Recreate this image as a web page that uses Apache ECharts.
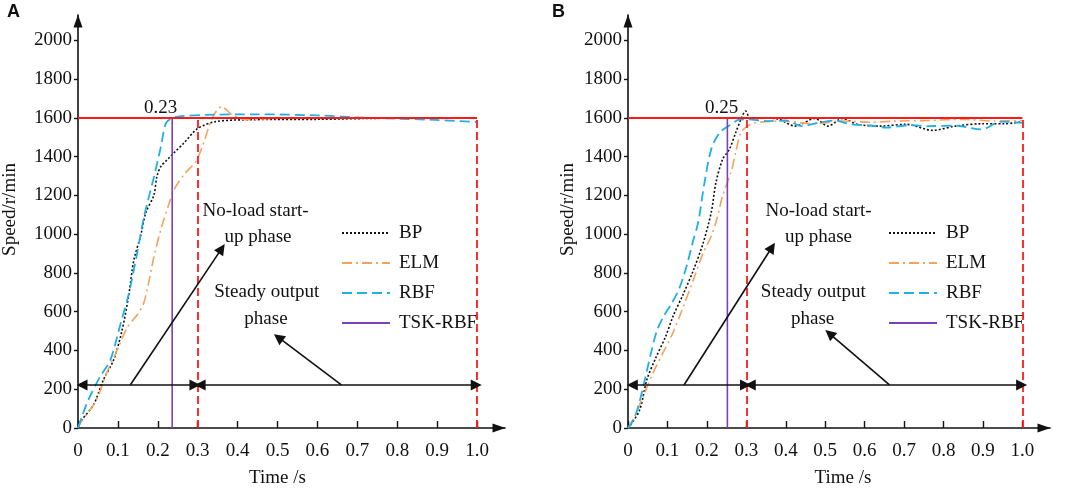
<!DOCTYPE html>
<html>
<head>
<meta charset="utf-8">
<script src="https://cdn.jsdelivr.net/npm/echarts@6/dist/echarts.min.js"></script>
<style>
    html, body { margin: 0; padding: 0; background: #fff; }
    #chart { width: 1065px; height: 493px; }
</style>
</head>
<body>
<div id="chart"></div>
<script>
// axis ticks
const xTicks = [0, 0.1, 0.2, 0.3, 0.4, 0.5, 0.6, 0.7, 0.8, 0.9, 1.0];
const yTicks = [0, 200, 400, 600, 800, 1000, 1200, 1400, 1600, 1800, 2000];
const seriesNames = ['BP', 'ELM', 'RBF', 'TSK-RBF'];

// panel A : [time, speed]
const bpA = [[0, 0], [0.01, 42], [0.039, 120], [0.064, 250], [0.089, 350], [0.11, 500], [0.127, 683], [0.14, 867],
    [0.157, 991], [0.17, 1111], [0.19, 1200], [0.198, 1300], [0.208, 1350], [0.222, 1380], [0.241, 1420],
    [0.266, 1471], [0.3, 1545], [0.345, 1580], [0.43, 1590], [0.6, 1592], [0.8, 1598], [1.0, 1598]];
const elmA = [[0, 0], [0.006, 25], [0.045, 140], [0.073, 290], [0.098, 400], [0.123, 517], [0.148, 583], [0.164, 640],
    [0.175, 730], [0.19, 880], [0.208, 1026], [0.229, 1163], [0.241, 1231], [0.266, 1308], [0.296, 1377],
    [0.312, 1454], [0.337, 1600], [0.36, 1658], [0.385, 1617], [0.42, 1590], [0.5, 1597], [0.7, 1600], [1.0, 1600]];
const rbfA = [[0, 0], [0.01, 60], [0.027, 150], [0.056, 267], [0.081, 350], [0.106, 533], [0.127, 690], [0.148, 900],
    [0.166, 1094], [0.191, 1300], [0.208, 1454], [0.22, 1570], [0.235, 1598], [0.26, 1608], [0.32, 1615],
    [0.45, 1618], [0.6, 1612], [0.72, 1600], [0.88, 1590], [1.0, 1578]];
const tskA = [[0.236, 0], [0.236, 1600]];

// panel B
const bpB = [[0, 0], [0.007, 17], [0.03, 95], [0.048, 250], [0.07, 360], [0.095, 470], [0.115, 580], [0.14, 690],
    [0.165, 810], [0.19, 950], [0.211, 1112], [0.223, 1266], [0.24, 1386], [0.257, 1437], [0.273, 1523],
    [0.288, 1600], [0.298, 1635], [0.312, 1592], [0.35, 1600], [0.383, 1592], [0.424, 1557], [0.474, 1596],
    [0.507, 1557], [0.544, 1596], [0.582, 1566], [0.64, 1557], [0.706, 1566], [0.772, 1535], [0.83, 1557],
    [0.896, 1569], [0.954, 1569], [1.0, 1580]];
const elmB = [[0, 0], [0.015, 51], [0.04, 171], [0.065, 291], [0.09, 393], [0.115, 496], [0.14, 625], [0.165, 760],
    [0.19, 900], [0.21, 985], [0.223, 1061], [0.24, 1198], [0.261, 1317], [0.273, 1420], [0.286, 1523],
    [0.303, 1557], [0.323, 1574], [0.391, 1583], [0.474, 1569], [0.54, 1583], [0.615, 1577], [0.681, 1583],
    [0.764, 1586], [0.847, 1592], [0.93, 1583], [1.0, 1586]];
const rbfB = [[0, 0], [0.007, 17], [0.023, 90], [0.04, 225], [0.057, 376], [0.073, 500], [0.09, 575], [0.11, 640],
    [0.13, 720], [0.148, 830], [0.163, 950], [0.178, 1061], [0.194, 1266], [0.211, 1437], [0.232, 1523],
    [0.257, 1560], [0.282, 1590], [0.3, 1592], [0.35, 1583], [0.4, 1586], [0.441, 1557], [0.482, 1574],
    [0.524, 1586], [0.565, 1566], [0.615, 1560], [0.656, 1549], [0.714, 1562], [0.764, 1557], [0.83, 1560],
    [0.896, 1540], [0.946, 1580], [1.0, 1574]];
const tskB = [[0.252, 0], [0.252, 1600]];

// reference speed, phase borders, double arrow level
const refSpeed = 1600;
const phaseEnds = [0.3, 1.0];
const arrowLevel = 222;

// annotations [x, y, text]
const notesA = [[0.445, 1117, 'No-load start-'], [0.451, 985, 'up phase'], [0.473, 700, 'Steady output'],
    [0.471, 563, 'phase'], [0.207, 1650, '0.23']];
const notesB = [[0.483, 1117, 'No-load start-'], [0.483, 985, 'up phase'], [0.47, 700, 'Steady output'],
    [0.468, 563, 'phase'], [0.2375, 1650, '0.25']];
// pointer arrows [fromX, fromY, toX, toY]
const pointersA = [[0.131, arrowLevel, 0.36, 925], [0.66, arrowLevel, 0.502, 467]];
const pointersB = [[0.142, arrowLevel, 0.365, 932], [0.663, arrowLevel, 0.511, 487]];
// double arrows [fromX, toX]
const spansA = [[0.01, 0.293], [0.306, 0.998]];
const spansB = [[0.011, 0.298], [0.31, 0.998]];

const font = 'Liberation Serif';
const black = '#111';

function makeAxes(idx, nameGapY, namePadX) {
    const x = {
        type: 'value', gridIndex: idx, min: 0, max: 1.07,
        name: 'Time /s', nameLocation: 'middle', nameGap: 41,
        nameTextStyle: { fontFamily: font, fontSize: 19, color: black, padding: namePadX },
        axisLine: { lineStyle: { color: black, width: 1.6 }, symbol: ['none', 'triangle'], symbolSize: [9, 13], symbolOffset: [0, -6] },
        axisTick: { inside: true, length: 7, lineStyle: { color: black, width: 1.4 }, customValues: xTicks },
        axisLabel: {
            fontFamily: font, fontSize: 19, color: black, margin: 14, customValues: xTicks,
            formatter: v => v === 0 ? '0' : v.toFixed(1)
        },
        splitLine: { show: false }
    };
    const y = {
        type: 'value', gridIndex: idx, min: 0, max: 2130,
        name: 'Speed/r/min', nameLocation: 'middle', nameGap: nameGapY,
        nameTextStyle: { fontFamily: font, fontSize: 19, color: black, padding: [0, 0, 0, 24] },
        axisLine: { lineStyle: { color: black, width: 1.6 }, symbol: ['none', 'triangle'], symbolSize: [9, 13], symbolOffset: [0, -6] },
        axisTick: { inside: false, length: 4, lineStyle: { color: black, width: 1.4 }, customValues: yTicks },
        axisLabel: {
            fontFamily: font, fontSize: 19, color: black, margin: 6, customValues: yTicks,
            formatter: v => String(v)
        },
        splitLine: { show: false }
    };
    return [x, y];
}

function curve(name, data, idx, color, type, width) {
    return {
        name: name, type: 'line', xAxisIndex: idx, yAxisIndex: idx, data: data,
        symbol: 'none', smooth: 0.3, silent: true,
        lineStyle: { color: color, type: type, width: width },
        itemStyle: { color: color },
        z: 2
    };
}

function guides(idx, pointers, spans) {
    const red = { color: '#ff1a1a', width: 1.8 };
    const lines = [
        [{ coord: [0, refSpeed], symbol: 'none', lineStyle: Object.assign({ type: 'solid' }, red) }, { coord: [phaseEnds[1], refSpeed], symbol: 'none' }]
    ];
    phaseEnds.forEach(p => {
        lines.push([{ coord: [p, 0], symbol: 'none', lineStyle: Object.assign({ type: [8, 4] }, red) }, { coord: [p, refSpeed], symbol: 'none' }]);
    });
    const arrows = [];
    spans.forEach(s => {
        arrows.push([{ coord: [s[0], arrowLevel], symbol: 'triangle' }, { coord: [s[1], arrowLevel], symbol: 'triangle' }]);
    });
    pointers.forEach(p => {
        arrows.push([{ coord: [p[0], p[1]], symbol: 'none' }, { coord: [p[2], p[3]], symbol: 'triangle' }]);
    });
    return [
        {
            type: 'line', xAxisIndex: idx, yAxisIndex: idx, data: [], silent: true, z: 4,
            markLine: { silent: true, animation: false, label: { show: false }, symbol: 'none', data: lines }
        },
        {
            type: 'line', xAxisIndex: idx, yAxisIndex: idx, data: [], silent: true, z: 5,
            markLine: {
                silent: true, animation: false, label: { show: false }, symbolSize: 11,
                lineStyle: { color: black, type: 'solid', width: 1.6 },
                itemStyle: { color: black },
                data: arrows
            }
        }
    ];
}

function notes(idx, list) {
    return {
        type: 'scatter', xAxisIndex: idx, yAxisIndex: idx, symbolSize: 0, silent: true, z: 6,
        itemStyle: { opacity: 1, color: black },
        data: list.map(n => ({ value: [n[0], n[1]], text: n[2] })),
        label: {
            show: true, position: 'inside', formatter: p => p.data.text,
            fontFamily: font, fontSize: 19, color: black, textBorderWidth: 0, opacity: 1
        }
    };
}

function legendFor(left) {
    return {
        data: seriesNames, orient: 'vertical', left: left, top: 218,
        itemWidth: 48, itemHeight: 20, itemGap: 10, selectedMode: false,
        itemStyle: { opacity: 0 },
        textStyle: { fontFamily: font, fontSize: 19, color: black, lineHeight: 20, padding: [0, 0, 0, 4] }
    };
}

function panelSeries(idx, bp, elm, rbf, tsk, list, pointers, spans) {
    return [
        curve('BP', bp, idx, '#111', [2, 2], 1.6),
        curve('ELM', elm, idx, '#F5A25D', [10, 4, 2, 4], 1.6),
        curve('RBF', rbf, idx, '#1FB0E8', [10, 5], 1.8),
        Object.assign(curve('TSK-RBF', tsk, idx, '#7B3FB8', 'solid', 1.6), { smooth: false }),
        ...guides(idx, pointers, spans),
        notes(idx, list)
    ];
}

const axesA = makeAxes(0, 58, [0, 28, 0, 0]);
const axesB = makeAxes(1, 50, [0, 0, 0, 8]);

const myChart = echarts.init(document.getElementById('chart'), null, { renderer: 'canvas' });
const option = {
    animation: false,
    backgroundColor: '#fff',
    grid: [
        { left: 78, top: 15, width: 427, height: 414.5 },
        { left: 628, top: 15, width: 422, height: 414.5 }
    ],
    xAxis: [axesA[0], axesB[0]],
    yAxis: [axesA[1], axesB[1]],
    legend: [legendFor(336), legendFor(883)],
    graphic: [
        { type: 'text', left: 7, top: 3, style: { text: 'A', font: 'bold 18px Liberation Sans', fill: black } },
        { type: 'text', left: 552, top: 3, style: { text: 'B', font: 'bold 18px Liberation Sans', fill: black } }
    ],
    series: [
        ...panelSeries(0, bpA, elmA, rbfA, tskA, notesA, pointersA, spansA),
        ...panelSeries(1, bpB, elmB, rbfB, tskB, notesB, pointersB, spansB)
    ]
};
myChart.setOption(option);
window.addEventListener('resize', myChart.resize);
</script>
</body>
</html>
